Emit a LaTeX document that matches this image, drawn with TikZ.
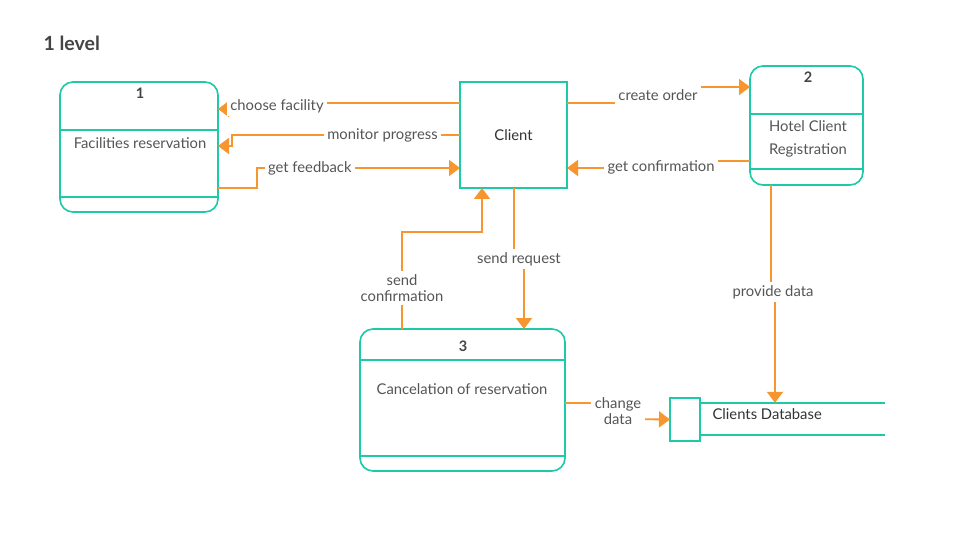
\documentclass[tikz,border=0pt]{standalone}
\usepackage{fontspec}
\setmainfont{Lato}
\usetikzlibrary{arrows.meta,calc,positioning}
\definecolor{procline}{HTML}{1DC9A6}
\definecolor{flow}{HTML}{F7962E}
\definecolor{textmain}{HTML}{555555}
\definecolor{titletext}{HTML}{444444}

\begin{document}
\begin{tikzpicture}[x=1pt,y=-1pt,
    proc/.style={draw=procline,line width=1.6pt,rounded corners=13pt,fill=white,outer sep=0pt},
    entity/.style={draw=procline,line width=1.6pt,fill=white,outer sep=0pt,text=black!80,font=\fontsize{14.8}{17}\selectfont},
    divider/.style={draw=procline,line width=1.6pt},
    ptext/.style={text=textmain,font=\fontsize{14.8}{23}\selectfont,align=center},
    pnum/.style={text=titletext,font=\fontsize{14.5}{17}\selectfont\bfseries},
    lbl/.style={fill=white,text=textmain,font=\fontsize{14.8}{16}\selectfont,inner sep=3.5pt,align=center},
    flowarr/.style={draw=flow,line width=1.8pt,-{Triangle[length=11pt,width=16pt]}}
  ]
  \useasboundingbox[fill=white] (0,0) rectangle (960,534);

  \node[anchor=west,text=titletext,font=\fontsize{19.5}{22}\selectfont\bfseries] (title) at (40,43) {1 level};

  % processes
  \node[proc,minimum width=158pt,minimum height=130pt] (p1) at (139,147) {};
  \draw[divider] ($(p1.north west)+(0,48)$) -- ($(p1.north east)+(0,48)$);
  \draw[divider] ($(p1.south west)+(0,-15)$) -- ($(p1.south east)+(0,-15)$);
  \node[pnum] (p1num) at (140,93) {1};
  \node[ptext] (p1txt) at (140,143) {Facilities reservation};

  \node[proc,minimum width=113pt,minimum height=119pt] (p2) at (806.5,125.5) {};
  \draw[divider] ($(p2.north west)+(0,48)$) -- ($(p2.north east)+(0,48)$);
  \draw[divider] ($(p2.south west)+(0,-16)$) -- ($(p2.south east)+(0,-16)$);
  \node[pnum] (p2num) at (808,77) {2};
  \node[ptext] (p2txt) at (808,138.5) {Hotel Client\\Registration};

  \node[proc,minimum width=205pt,minimum height=142pt] (p3) at (462.5,400) {};
  \draw[divider] ($(p3.north west)+(0,31)$) -- ($(p3.north east)+(0,31)$);
  \draw[divider] ($(p3.south west)+(0,-15)$) -- ($(p3.south east)+(0,-15)$);
  \node[pnum] (p3num) at (463,346) {3};
  \node[ptext] (p3txt) at (462,389) {Cancelation of reservation};

  % external entity
  \node[entity,minimum width=107pt,minimum height=106pt] (client) at (513.5,135) {Client};

  % data store
  \node[entity,minimum width=30pt,minimum height=43pt] (dsbox) at (685,419.5) {};
  \node[anchor=west,minimum width=185pt,minimum height=32pt] (store) at (700,419) {};
  \draw[divider] (store.north west) -- (store.north east);
  \draw[divider] (store.south west) -- (store.south east);
  \node[anchor=west,text=black!80,font=\fontsize{14.8}{17}\selectfont] (storetxt) at (709,414) {Clients Database};

  % data flows
  \draw[flowarr] ($(client.north west)+(0,21)$) -- ++(-183,0)
    -- node[lbl]{choose facility} ++(0,6) -- ($(p1.north east)+(0,27)$);
  \draw[flowarr] ($(client.north west)+(0,53)$) -- node[lbl,pos=0.34]{monitor progress} ++(-228,0)
    -- ++(0,11) -- ($(p1.north east)+(0,64)$);
  \draw[flowarr] ($(p1.north east)+(0,106)$) -- ++(39,0) -- ++(0,-20)
    -- node[lbl,pos=0.26]{get feedback} ($(client.north west)+(0,86)$);
  \draw[flowarr] ($(client.north east)+(0,21)$) -- ++(91,0)
    -- node[lbl]{create order} ++(0,-16) -- ($(p2.north west)+(0,21)$);
  \draw[flowarr] ($(p2.north west)+(0,95)$) -- ++(-89,0)
    -- node[lbl,pos=0.9]{get confirmation} ++(0,7) -- ($(client.north east)+(0,86)$);
  \draw[flowarr] ($(client.south west)+(54,0)$) -- ++(0,71)
    -- node[lbl]{send request} ++(10,0) -- ($(p3.north west)+(164,0)$);
  \draw[flowarr] ($(p3.north west)+(42,0)$) -- node[lbl,pos=0.42]{send\\confirmation} ++(0,-97)
    -- ++(80,0) -- ($(client.south west)+(22,0)$);
  \draw[flowarr] ($(p2.south west)+(21,0)$) -- ++(0,107)
    -- node[lbl]{provide data} ++(4,0) -- ($(store.north west)+(75,0)$);
  \draw[flowarr] ($(p3.north east)+(0,74)$) -- ++(53,0)
    -- node[lbl]{change\\data} ++(0,16) -- (dsbox.west);
\end{tikzpicture}
\end{document}
